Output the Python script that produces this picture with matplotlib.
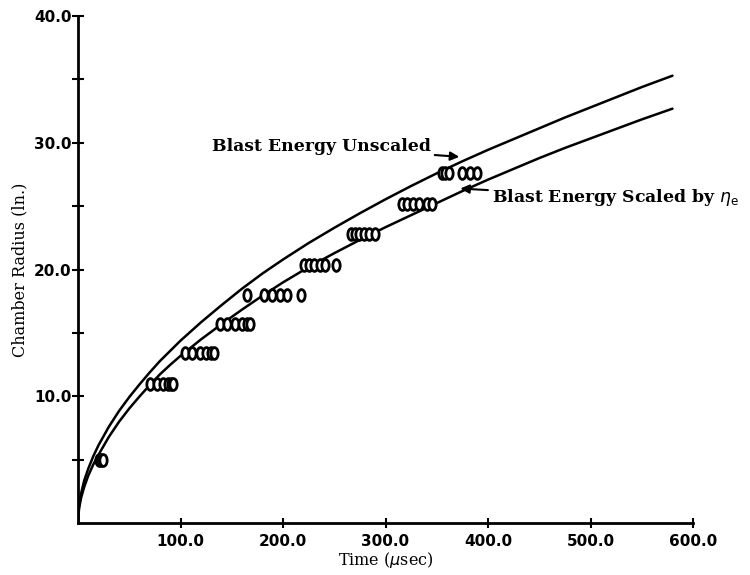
import matplotlib
matplotlib.use('Agg')
import matplotlib.pyplot as plt
import numpy as np
from matplotlib.path import Path
from matplotlib.transforms import Affine2D

# curve values (time in usec, radius in inches)
t_curve = [0, 1, 3, 6, 10, 15, 20, 30, 40, 50, 60, 70, 80, 90, 100, 120, 140,
           160, 180, 200, 225, 250, 275, 300, 325, 350, 375, 400, 425, 450,
           475, 500, 525, 550, 580]
r_unscaled = [0, 1.35, 2.35, 3.35, 4.3, 5.3, 6.15, 7.6, 8.85, 9.95, 10.95,
              11.9, 12.8, 13.6, 14.4, 15.85, 17.2, 18.5, 19.7, 20.8, 22.1,
              23.3, 24.45, 25.55, 26.6, 27.6, 28.55, 29.45, 30.3, 31.15, 32.0,
              32.8, 33.6, 34.4, 35.3]
r_scaled = [0, 1.15, 2.0, 2.85, 3.75, 4.65, 5.4, 6.8, 8.0, 9.05, 10.0, 10.9,
            11.75, 12.5, 13.2, 14.5, 15.7, 16.85, 17.95, 19.0, 20.2, 21.3,
            22.35, 23.35, 24.3, 25.25, 26.2, 27.1, 27.95, 28.8, 29.6, 30.35,
            31.1, 31.85, 32.7]

# measured points
t_meas = [20, 22, 24,
          70, 77, 83, 88, 91, 93,
          104, 111, 119, 125, 130, 133,
          139, 145, 153, 160, 165, 168,
          165, 181, 189, 197, 204, 218,
          220, 225, 230, 236, 241, 252,
          266, 270, 274, 279, 284, 290,
          316, 321, 327, 333, 340, 345,
          355, 358, 362, 375, 382, 389]
r_meas = [5.0, 5.0, 5.0,
          11.0, 11.0, 11.0, 11.0, 11.0, 11.0,
          13.4, 13.4, 13.4, 13.4, 13.4, 13.4,
          15.7, 15.7, 15.7, 15.7, 15.7, 15.7,
          18.0, 18.0, 18.0, 18.0, 18.0, 18.0,
          20.4, 20.4, 20.4, 20.4, 20.4, 20.4,
          22.8, 22.8, 22.8, 22.8, 22.8, 22.8,
          25.2, 25.2, 25.2, 25.2, 25.2, 25.2,
          27.6, 27.6, 27.6, 27.6, 27.6, 27.6]

xticks = [100, 200, 300, 400, 500, 600]
yticks = [10, 20, 30, 40]
yminor = [5, 15, 25, 35]

fig = plt.figure(figsize=(7.5, 5.75), dpi=100)
ax = fig.add_axes([0.104, 0.090, 0.820, 0.882])

ax.plot(t_curve, r_unscaled, color='black', lw=1.8, solid_capstyle='round',
        solid_joinstyle='round')
ax.plot(t_curve, r_scaled, color='black', lw=1.8, solid_capstyle='round',
        solid_joinstyle='round')

# tall oval marker, like a typed zero
oval = Path.unit_circle().transformed(Affine2D().scale(0.62, 1.0))
ax.plot(t_meas, r_meas, ls='none', marker=oval, ms=8.5, mfc='white',
        mec='black', mew=2.0)

ax.set_xlim(0, 600)
ax.set_ylim(0, 40)
ax.spines['top'].set_visible(False)
ax.spines['right'].set_visible(False)
ax.spines['left'].set_linewidth(2)
ax.spines['bottom'].set_linewidth(2)

ax.set_xticks(xticks)
ax.set_xticklabels(['%.1f' % v for v in xticks])
ax.set_yticks(yticks)
ax.set_yticklabels(['%.1f' % v for v in yticks])
ax.set_yticks(yminor, minor=True)
ax.tick_params(axis='both', which='both', direction='inout', width=1.5)
ax.tick_params(axis='y', which='both', length=9, pad=0)
ax.tick_params(axis='x', length=7, pad=4)
for lab in ax.get_xticklabels() + ax.get_yticklabels():
    lab.set_fontweight('bold')
    lab.set_fontsize(11)
    lab.set_family('DejaVu Sans')

ax.set_xlabel(r'Time ($\mu$sec)', family='DejaVu Serif', fontsize=11.5, labelpad=1)
ax.set_ylabel('Chamber Radius (ln.)', family='DejaVu Serif', fontsize=11.5, labelpad=4)

arrow = dict(arrowstyle='-|>', color='black', lw=1.5, mutation_scale=13,
             shrinkA=1, shrinkB=0)
ax.annotate('Blast Energy Unscaled', xy=(372, 28.9), xytext=(344, 29.7),
            ha='right', va='center', family='DejaVu Serif', fontweight='bold',
            fontsize=12.4, arrowprops=arrow)
ax.annotate(r'Blast Energy Scaled by $\eta_{\rm e}$', xy=(373, 26.4), xytext=(404, 25.7),
            ha='left', va='center', family='DejaVu Serif', fontweight='bold',
            fontsize=12.4, arrowprops=arrow, annotation_clip=False)

plt.savefig('out.png', dpi=100)
